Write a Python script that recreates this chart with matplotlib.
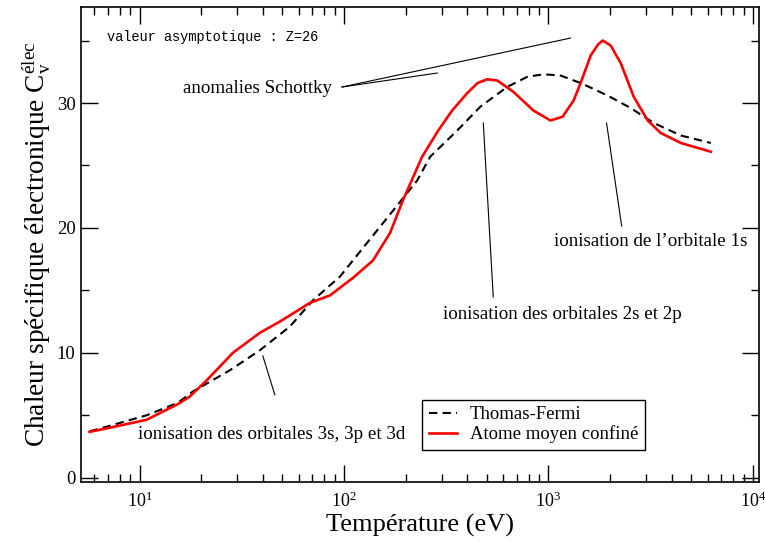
import numpy as np
import matplotlib
matplotlib.use("Agg")
import matplotlib.pyplot as plt
from matplotlib.ticker import LogLocator, MultipleLocator, NullFormatter

plt.rcParams["font.family"] = ["Liberation Serif", "DejaVu Serif"]
plt.rcParams["mathtext.fontset"] = "custom"
plt.rcParams["mathtext.rm"] = "Liberation Serif"
plt.rcParams["mathtext.it"] = "Liberation Serif:italic"

# Thomas-Fermi (dashed black)
T_tf = [5.7, 7.1, 10.8, 15.4, 18.2, 27.6, 38.7, 54.3, 70.4, 95.5, 129.6, 174,
        228, 264, 358, 464, 630, 789, 945, 1145, 1436, 1946, 2522, 3273, 4438, 6223]
Cv_tf = [3.72, 4.15, 5.0, 6.0, 6.9, 8.6, 10.2, 12.1, 14.2, 16.1, 18.8, 21.4,
         23.8, 25.7, 27.8, 29.7, 31.3, 32.1, 32.3, 32.2, 31.6, 30.6, 29.6, 28.4, 27.4, 26.8]

# Atome moyen confine (red)
T_amc = [5.7, 7.1, 10.8, 15.4, 17.6, 21.3, 28.6, 38.7, 48.5, 68.1, 85.4, 110.6,
         138.6, 168, 194, 241, 289, 338, 401, 450, 502, 562, 673, 844, 1023, 1172,
         1327, 1436, 1608, 1750, 1842, 2014, 2255, 2612, 3057, 3540, 4438, 6223]
Cv_amc = [3.68, 4.0, 4.64, 5.9, 6.5, 7.8, 10.0, 11.6, 12.5, 14.0, 14.6, 16.0,
          17.4, 19.6, 22.2, 25.7, 27.8, 29.4, 30.8, 31.6, 31.9, 31.8, 30.9, 29.4, 28.6, 28.9,
          30.2, 31.6, 33.8, 34.7, 35.0, 34.6, 33.2, 30.5, 28.6, 27.6, 26.8, 26.1]

fig = plt.figure(figsize=(7.65, 5.42), dpi=100)
ax = fig.add_axes([0.106, 0.111, 0.886, 0.876])

ax.plot(T_tf, Cv_tf, color="black", lw=1.5, ls=(0, (4, 2.5)), label="Thomas-Fermi")
ax.plot(T_amc, Cv_amc, color="red", lw=1.9, label="Atome moyen confiné")

ax.set_xscale("log")
ax.set_xlim(5.18, 10690)
ax.set_ylim(-0.32, 37.68)

ax.xaxis.set_major_locator(LogLocator(base=10, numticks=10))
ax.xaxis.set_minor_locator(LogLocator(base=10, subs=np.arange(2, 10), numticks=20))
ax.xaxis.set_minor_formatter(NullFormatter())
ax.yaxis.set_major_locator(MultipleLocator(10))
ax.yaxis.set_minor_locator(MultipleLocator(5))

ax.tick_params(which="both", direction="in", top=True, right=True, width=1)
ax.tick_params(which="major", length=12)
ax.tick_params(axis="x", which="major", pad=7, labelsize=13)
ax.tick_params(axis="y", which="major", pad=4, labelsize=13.5)
ax.tick_params(which="minor", length=6)
for s in ax.spines.values():
    s.set_linewidth(1.2)

ax.set_xlabel("Température (eV)", fontsize=19, labelpad=2)
ax.set_ylabel(r"Chaleur spécifique électronique C$_\mathrm{v}^\mathrm{élec}$", fontsize=19.7, labelpad=3)

ax.text(6.96, 35.3, "valeur asymptotique : Z=26", family="Liberation Mono",
        fontsize=9.8, ha="left", va="center")

ax.text(37.9, 31.2, "anomalies Schottky", fontsize=13.7, ha="center", va="center")
ax.plot([97.8, 1283], [31.28, 35.2], color="black", lw=0.8)
ax.plot([97.8, 286], [31.28, 32.4], color="black", lw=0.8)

ax.text(44.4, 3.44, "ionisation des orbitales 3s, 3p et 3d", fontsize=13.7, ha="center", va="center")
ax.plot([40.1, 45.9], [9.76, 6.64], color="black", lw=0.8)

ax.text(1172, 13.04, "ionisation des orbitales 2s et 2p", fontsize=13.7, ha="center", va="center")
ax.plot([480, 537], [28.4, 14.48], color="black", lw=0.8)

ax.text(3162, 18.88, "ionisation de l\u2019orbitale 1s", fontsize=13.7, ha="center", va="center")
ax.plot([1923, 2280], [28.4, 20.16], color="black", lw=0.8)

leg = ax.legend(loc="upper left", bbox_to_anchor=(0.503, 0.173), fontsize=13.5,
                frameon=True, fancybox=False, framealpha=1, edgecolor="black",
                borderaxespad=0, handlelength=1.5, handletextpad=0.7,
                borderpad=0.35, labelspacing=0.1)
leg.get_frame().set_linewidth(1.0)

fig.savefig("out.png", dpi=100)
